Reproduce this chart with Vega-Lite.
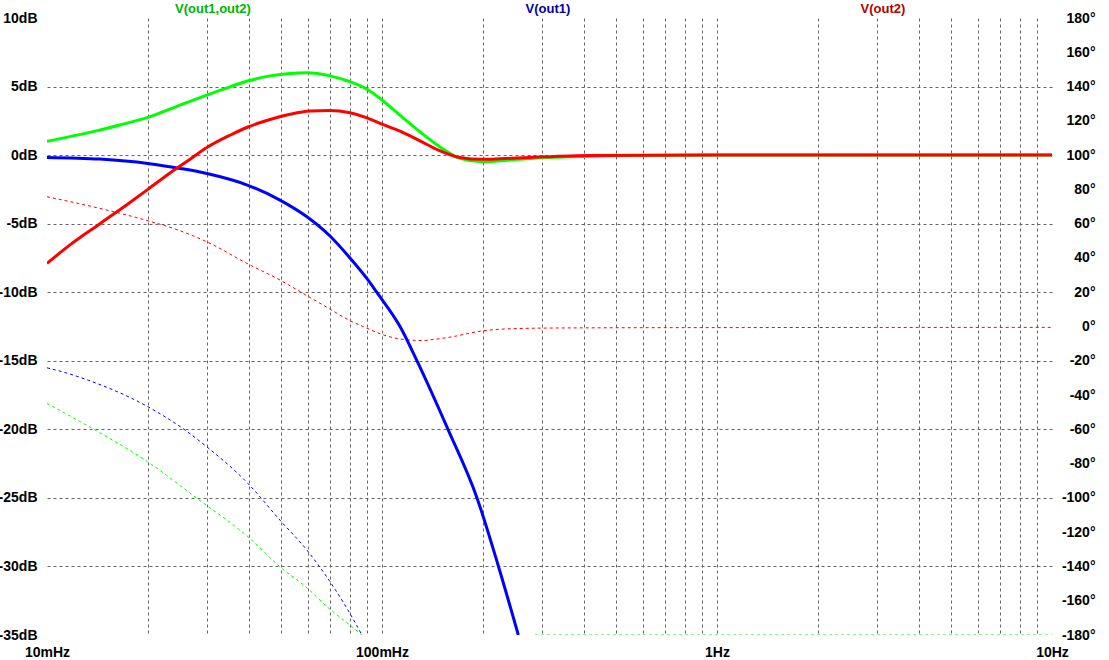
{
  "$schema": "https://vega.github.io/schema/vega-lite/v6.json",
  "width": 1005,
  "height": 617,
  "autosize": {"type": "none"},
  "padding": {"left": 47, "top": 18, "right": 57, "bottom": 25},
  "background": "white",
  "config": {
    "view": {"stroke": null},
    "axis": {
      "labelFont": "Liberation Sans",
      "labelFontWeight": "bold",
      "labelFontSize": 14,
      "labelColor": "#000000",
      "domain": false,
      "ticks": false,
      "tickSize": 0,
      "gridColor": "#646464",
      "gridDash": [3, 3],
      "gridWidth": 1
    }
  },
  "datasets": {
    "mag": [
      {"trace": "V(out1,out2)", "f": 0.01, "db": 1.0},
      {"trace": "V(out1,out2)", "f": 0.01171, "db": 1.35},
      {"trace": "V(out1,out2)", "f": 0.01407, "db": 1.77},
      {"trace": "V(out1,out2)", "f": 0.01652, "db": 2.2},
      {"trace": "V(out1,out2)", "f": 0.02, "db": 2.75},
      {"trace": "V(out1,out2)", "f": 0.02495, "db": 3.65},
      {"trace": "V(out1,out2)", "f": 0.03, "db": 4.38},
      {"trace": "V(out1,out2)", "f": 0.03518, "db": 4.98},
      {"trace": "V(out1,out2)", "f": 0.04, "db": 5.42},
      {"trace": "V(out1,out2)", "f": 0.04631, "db": 5.78},
      {"trace": "V(out1,out2)", "f": 0.05313, "db": 5.96},
      {"trace": "V(out1,out2)", "f": 0.0597, "db": 6.0},
      {"trace": "V(out1,out2)", "f": 0.06994, "db": 5.78},
      {"trace": "V(out1,out2)", "f": 0.08025, "db": 5.35},
      {"trace": "V(out1,out2)", "f": 0.09021, "db": 4.8},
      {"trace": "V(out1,out2)", "f": 0.1, "db": 4.02},
      {"trace": "V(out1,out2)", "f": 0.1132, "db": 2.9},
      {"trace": "V(out1,out2)", "f": 0.1298, "db": 1.7},
      {"trace": "V(out1,out2)", "f": 0.149, "db": 0.6},
      {"trace": "V(out1,out2)", "f": 0.1709, "db": -0.24},
      {"trace": "V(out1,out2)", "f": 0.1989, "db": -0.49},
      {"trace": "V(out1,out2)", "f": 0.225, "db": -0.41},
      {"trace": "V(out1,out2)", "f": 0.2766, "db": -0.24},
      {"trace": "V(out1,out2)", "f": 0.39, "db": -0.1},
      {"trace": "V(out1,out2)", "f": 0.5133, "db": -0.02},
      {"trace": "V(out1,out2)", "f": 1, "db": 0},
      {"trace": "V(out1,out2)", "f": 10, "db": 0},

      {"trace": "V(out1)", "f": 0.01, "db": -0.17},
      {"trace": "V(out1)", "f": 0.01439, "db": -0.29},
      {"trace": "V(out1)", "f": 0.02, "db": -0.61},
      {"trace": "V(out1)", "f": 0.02495, "db": -0.97},
      {"trace": "V(out1)", "f": 0.03, "db": -1.34},
      {"trace": "V(out1)", "f": 0.0398, "db": -2.2},
      {"trace": "V(out1)", "f": 0.0496, "db": -3.28},
      {"trace": "V(out1)", "f": 0.0597, "db": -4.5},
      {"trace": "V(out1)", "f": 0.06994, "db": -5.9},
      {"trace": "V(out1)", "f": 0.08025, "db": -7.5},
      {"trace": "V(out1)", "f": 0.0908, "db": -9.1},
      {"trace": "V(out1)", "f": 0.09643, "db": -10},
      {"trace": "V(out1)", "f": 0.1132, "db": -12.5},
      {"trace": "V(out1)", "f": 0.1272, "db": -15},
      {"trace": "V(out1)", "f": 0.1574, "db": -20},
      {"trace": "V(out1)", "f": 0.1921, "db": -25},
      {"trace": "V(out1)", "f": 0.2227, "db": -30},
      {"trace": "V(out1)", "f": 0.2552, "db": -35},

      {"trace": "V(out2)", "f": 0.01, "db": -7.9},
      {"trace": "V(out2)", "f": 0.01171, "db": -6.55},
      {"trace": "V(out2)", "f": 0.01439, "db": -5.0},
      {"trace": "V(out2)", "f": 0.01769, "db": -3.45},
      {"trace": "V(out2)", "f": 0.02, "db": -2.5},
      {"trace": "V(out2)", "f": 0.02329, "db": -1.3},
      {"trace": "V(out2)", "f": 0.02673, "db": -0.3},
      {"trace": "V(out2)", "f": 0.03, "db": 0.55},
      {"trace": "V(out2)", "f": 0.03518, "db": 1.45},
      {"trace": "V(out2)", "f": 0.0398, "db": 2.05},
      {"trace": "V(out2)", "f": 0.04631, "db": 2.6},
      {"trace": "V(out2)", "f": 0.05313, "db": 2.98},
      {"trace": "V(out2)", "f": 0.06097, "db": 3.22},
      {"trace": "V(out2)", "f": 0.06994, "db": 3.26},
      {"trace": "V(out2)", "f": 0.08025, "db": 3.09},
      {"trace": "V(out2)", "f": 0.09021, "db": 2.72},
      {"trace": "V(out2)", "f": 0.1, "db": 2.26},
      {"trace": "V(out2)", "f": 0.1132, "db": 1.75},
      {"trace": "V(out2)", "f": 0.1298, "db": 1.04},
      {"trace": "V(out2)", "f": 0.149, "db": 0.31},
      {"trace": "V(out2)", "f": 0.1709, "db": -0.17},
      {"trace": "V(out2)", "f": 0.1989, "db": -0.31},
      {"trace": "V(out2)", "f": 0.225, "db": -0.27},
      {"trace": "V(out2)", "f": 0.2766, "db": -0.17},
      {"trace": "V(out2)", "f": 0.4178, "db": -0.02},
      {"trace": "V(out2)", "f": 1, "db": 0},
      {"trace": "V(out2)", "f": 10, "db": 0}
    ],
    "phase": [
      {"trace": "V(out1)", "seg": "b1", "f": 0.01, "deg": -24.1},
      {"trace": "V(out1)", "seg": "b1", "f": 0.01147, "deg": -27.2},
      {"trace": "V(out1)", "seg": "b1", "f": 0.01326, "deg": -31.3},
      {"trace": "V(out1)", "seg": "b1", "f": 0.02, "deg": -46.8},
      {"trace": "V(out1)", "seg": "b1", "f": 0.02582, "deg": -60.4},
      {"trace": "V(out1)", "seg": "b1", "f": 0.03, "deg": -70.2},
      {"trace": "V(out1)", "seg": "b1", "f": 0.0398, "deg": -91.6},
      {"trace": "V(out1)", "seg": "b1", "f": 0.0496, "deg": -113},
      {"trace": "V(out1)", "seg": "b1", "f": 0.0597, "deg": -130.5},
      {"trace": "V(out1)", "seg": "b1", "f": 0.06946, "deg": -148},
      {"trace": "V(out1)", "seg": "b1", "f": 0.07915, "deg": -165.5},
      {"trace": "V(out1)", "seg": "b1", "f": 0.08714, "deg": -180},

      {"trace": "V(out1,out2)", "seg": "g1", "f": 0.01, "deg": -44.9},
      {"trace": "V(out1,out2)", "seg": "g1", "f": 0.01391, "deg": -60.4},
      {"trace": "V(out1,out2)", "seg": "g1", "f": 0.02, "deg": -79},
      {"trace": "V(out1,out2)", "seg": "g1", "f": 0.02804, "deg": -100.3},
      {"trace": "V(out1,out2)", "seg": "g1", "f": 0.0398, "deg": -122.7},
      {"trace": "V(out1,out2)", "seg": "g1", "f": 0.0496, "deg": -140.2},
      {"trace": "V(out1,out2)", "seg": "g1", "f": 0.0597, "deg": -152.5},
      {"trace": "V(out1,out2)", "seg": "g1", "f": 0.06946, "deg": -164.5},
      {"trace": "V(out1,out2)", "seg": "g1", "f": 0.07915, "deg": -173.3},
      {"trace": "V(out1,out2)", "seg": "g1", "f": 0.08714, "deg": -180},
      {"trace": "V(out1,out2)", "seg": "g2", "f": 0.2862, "deg": -180},
      {"trace": "V(out1,out2)", "seg": "g2", "f": 10, "deg": -180},

      {"trace": "V(out2)", "seg": "r1", "f": 0.01, "deg": 75.7},
      {"trace": "V(out2)", "seg": "r1", "f": 0.01439, "deg": 68.9},
      {"trace": "V(out2)", "seg": "r1", "f": 0.02, "deg": 61.7},
      {"trace": "V(out2)", "seg": "r1", "f": 0.02444, "deg": 56.5},
      {"trace": "V(out2)", "seg": "r1", "f": 0.03, "deg": 49.4},
      {"trace": "V(out2)", "seg": "r1", "f": 0.0398, "deg": 36.5},
      {"trace": "V(out2)", "seg": "r1", "f": 0.0496, "deg": 27.1},
      {"trace": "V(out2)", "seg": "r1", "f": 0.0597, "deg": 18},
      {"trace": "V(out2)", "seg": "r1", "f": 0.06946, "deg": 10.5},
      {"trace": "V(out2)", "seg": "r1", "f": 0.0797, "deg": 3.7},
      {"trace": "V(out2)", "seg": "r1", "f": 0.09021, "deg": -1},
      {"trace": "V(out2)", "seg": "r1", "f": 0.09863, "deg": -4.2},
      {"trace": "V(out2)", "seg": "r1", "f": 0.1109, "deg": -7.0},
      {"trace": "V(out2)", "seg": "r1", "f": 0.1212, "deg": -7.9},
      {"trace": "V(out2)", "seg": "r1", "f": 0.1326, "deg": -8.2},
      {"trace": "V(out2)", "seg": "r1", "f": 0.142, "deg": -7.6},
      {"trace": "V(out2)", "seg": "r1", "f": 0.1596, "deg": -6.2},
      {"trace": "V(out2)", "seg": "r1", "f": 0.2002, "deg": -2.5},
      {"trace": "V(out2)", "seg": "r1", "f": 0.2361, "deg": -1.4},
      {"trace": "V(out2)", "seg": "r1", "f": 0.3172, "deg": -0.9},
      {"trace": "V(out2)", "seg": "r1", "f": 0.631, "deg": -0.7},
      {"trace": "V(out2)", "seg": "r1", "f": 10, "deg": -0.5}
    ],
    "titles": [
      {"trace": "V(out1,out2)", "f": 0.0313},
      {"trace": "V(out1)", "f": 0.313},
      {"trace": "V(out2)", "f": 3.13}
    ]
  },
  "encoding": {
    "x": {
      "field": "f",
      "type": "quantitative",
      "scale": {"type": "log", "domain": [0.01, 10], "nice": false},
      "axis": {
        "title": null,
        "orient": "bottom",
        "values": [0.01, 0.02, 0.03, 0.04, 0.05, 0.06, 0.07, 0.08, 0.09, 0.1, 0.2, 0.3, 0.4, 0.5, 0.6, 0.7, 0.8, 0.9, 1, 2, 3, 4, 5, 6, 7, 8, 9, 10],
        "labelExpr": "datum.value < 0.0105 ? '10mHz' : (abs(datum.value - 0.1) < 0.001 ? '100mHz' : (abs(datum.value - 1) < 0.01 ? '1Hz' : (datum.value > 9.9 ? '10Hz' : '')))",
        "labelFlush": false,
        "labelOverlap": false,
        "labelPadding": 10,
        "grid": true,
        "gridOpacity": {"condition": {"test": "datum.value < 0.0105 || datum.value > 9.9", "value": 0}, "value": 1}
      }
    }
  },
  "layer": [
    {
      "data": {"name": "phase"},
      "mark": {"type": "line", "strokeWidth": 1, "strokeDash": [3, 3], "interpolate": "monotone", "clip": true},
      "encoding": {
        "y": {
          "field": "deg",
          "type": "quantitative",
          "scale": {"domain": [-180, 180], "nice": false, "zero": false},
          "axis": {
            "title": null,
            "orient": "right",
            "values": [-180, -160, -140, -120, -100, -80, -60, -40, -20, 0, 20, 40, 60, 80, 100, 120, 140, 160, 180],
            "labelExpr": "datum.value + '°'",
            "labelAlign": "right",
            "labelPadding": 43,
            "grid": false
          }
        },
        "color": {
          "field": "trace",
          "type": "nominal",
          "scale": {"domain": ["V(out1,out2)", "V(out1)", "V(out2)"], "range": ["#00ff00", "#0000ff", "#ff0000"]},
          "legend": null
        },
        "detail": {"field": "seg", "type": "nominal"}
      }
    },
    {
      "data": {"name": "mag"},
      "encoding": {
        "y": {
          "field": "db",
          "type": "quantitative",
          "scale": {"domain": [-35, 10], "nice": false, "zero": false},
          "axis": {
            "title": null,
            "orient": "left",
            "values": [-35, -30, -25, -20, -15, -10, -5, 0, 5, 10],
            "labelExpr": "datum.value + 'dB'",
            "labelPadding": 10,
            "grid": true,
            "gridOpacity": {"condition": {"test": "datum.value > 9 || datum.value < -34", "value": 0}, "value": 1}
          }
        },
        "color": {
          "field": "trace",
          "type": "nominal",
          "scale": {"domain": ["V(out1,out2)", "V(out1)", "V(out2)"], "range": ["#00ff00", "#0000ff", "#ff0000"]},
          "legend": null
        }
      },
      "layer": [
        {"transform": [{"filter": "datum.trace == 'V(out1,out2)'"}], "mark": {"type": "line", "strokeWidth": 3, "interpolate": "monotone", "clip": true}},
        {"transform": [{"filter": "datum.trace == 'V(out1)'"}], "mark": {"type": "line", "strokeWidth": 3, "interpolate": "monotone", "clip": true}},
        {"transform": [{"filter": "datum.trace == 'V(out2)'"}], "mark": {"type": "line", "strokeWidth": 3, "interpolate": "monotone", "clip": true}}
      ]
    },
    {
      "data": {"name": "titles"},
      "mark": {"type": "text", "font": "Liberation Sans", "fontSize": 13, "fontWeight": "bold", "baseline": "middle", "align": "center", "dy": -9},
      "encoding": {
        "y": {"datum": 10, "type": "quantitative", "scale": {"domain": [-35, 10], "nice": false, "zero": false}, "axis": null},
        "text": {"field": "trace", "type": "nominal"},
        "color": {
          "field": "trace",
          "type": "nominal",
          "scale": {"domain": ["V(out1,out2)", "V(out1)", "V(out2)"], "range": ["#00b400", "#0000aa", "#b40000"]},
          "legend": null
        }
      }
    }
  ],
  "resolve": {"scale": {"y": "independent", "color": "independent"}}
}
